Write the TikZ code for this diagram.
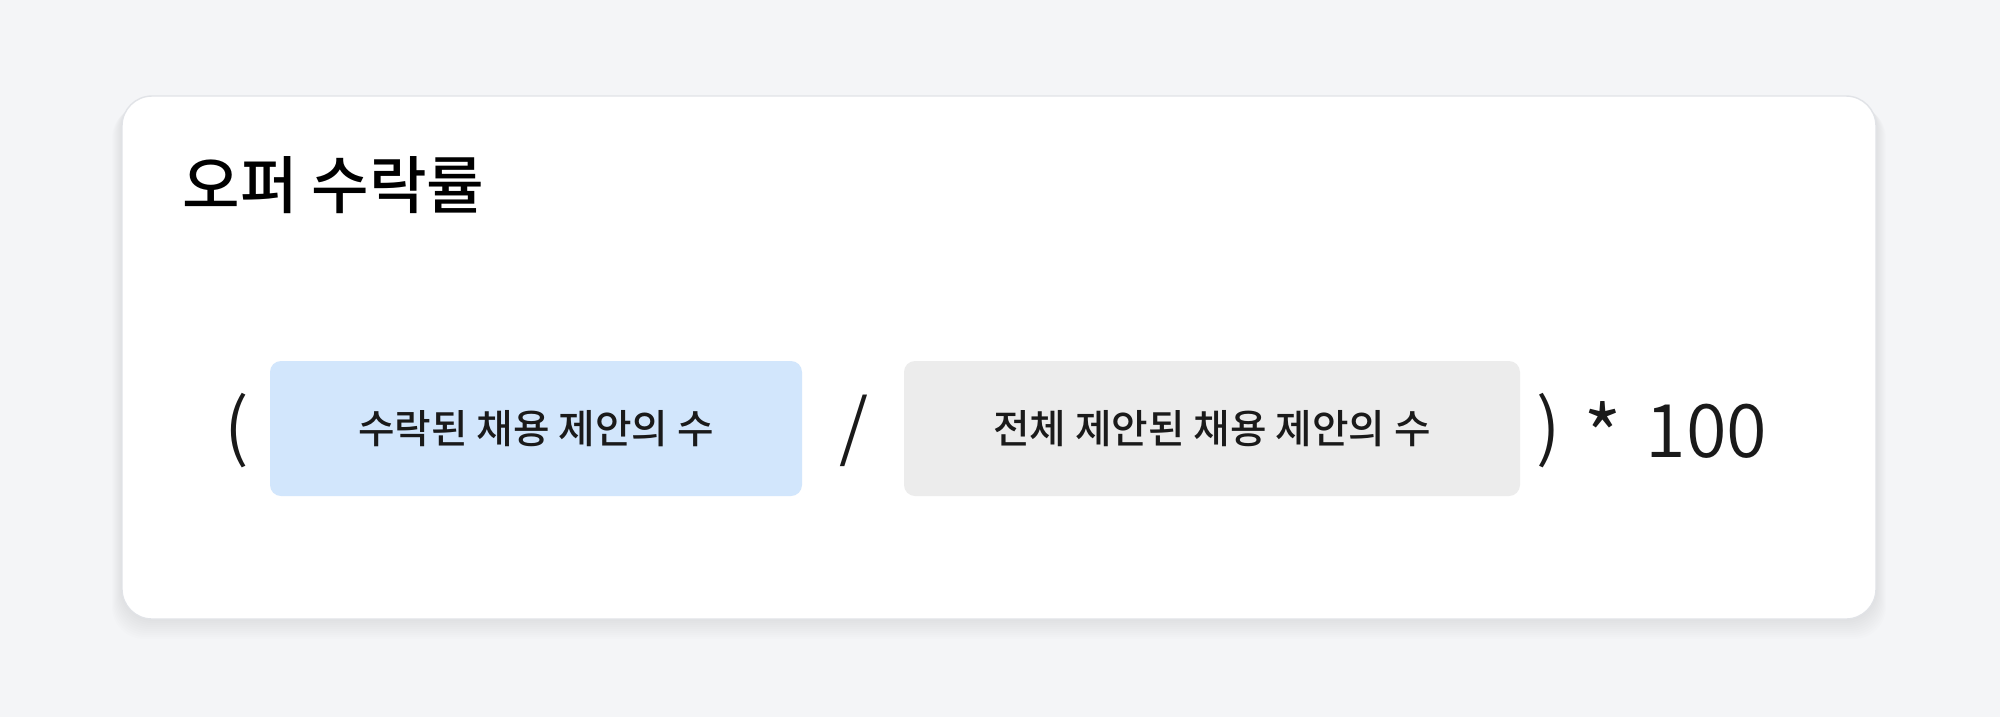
\documentclass[tikz,border=0pt]{standalone}
\usepackage{fontspec}
\setmainfont{Noto Sans CJK KR}[BoldFont={Noto Sans CJK KR Medium}]
\newfontfamily\thinfont{Noto Sans CJK KR DemiLight}
\usetikzlibrary{positioning}
\definecolor{pagebg}{HTML}{F4F5F7}
\definecolor{cardline}{HTML}{E1E3E7}
\definecolor{accblue}{HTML}{D2E6FC}
\definecolor{totgray}{HTML}{ECECEC}
\definecolor{inkdark}{HTML}{1A1A1A}

\begin{document}
\begin{tikzpicture}[x=0.1mm,y=-0.1mm,
    termbox/.style={minimum height=13.5mm, rounded corners=1.1mm,
        inner sep=0pt, text=inkdark, font=\bfseries\fontsize{11.3}{13}\selectfont},
    oper/.style={inner sep=0pt, text=inkdark, font=\thinfont\fontsize{21}{24}\selectfont}]
  % background and card
  \fill[pagebg] (0,0) rectangle (2000,717);
  \foreach \i in {1,...,10}
    \fill[black, opacity=0.006, rounded corners=3.2mm]
      (122-\i,96+\i) rectangle (1876+\i,619+2*\i);
  \draw[cardline, fill=white, rounded corners=3mm] (122,96) rectangle (1876,619);
  % title
  \node[anchor=base west, inner sep=0pt, text=black,
        font=\bfseries\fontsize{17.8}{20}\selectfont] (title) at (182,208) {오퍼 수락률};
  % formula
  \node[termbox, fill=accblue, minimum width=53.2mm] (acc) at (536,428.5) {수락된 채용 제안의 수};
  \node[termbox, fill=totgray, minimum width=61.6mm] (tot) at (1212,428.5) {전체 제안된 채용 제안의 수};
  \node[oper] (lpar) at (236.5,431) {(};
  \node[oper] (slash) at (854,431) {/};
  \node[oper] (rpar) at (1548.5,431) {)};
  \node[oper, anchor=base, font=\thinfont\fontsize{24}{26}\selectfont] (star) at (1602.5,468) {*};
  \node[oper, anchor=base west] (hundred) at (1645,457) {100};
\end{tikzpicture}
\end{document}
